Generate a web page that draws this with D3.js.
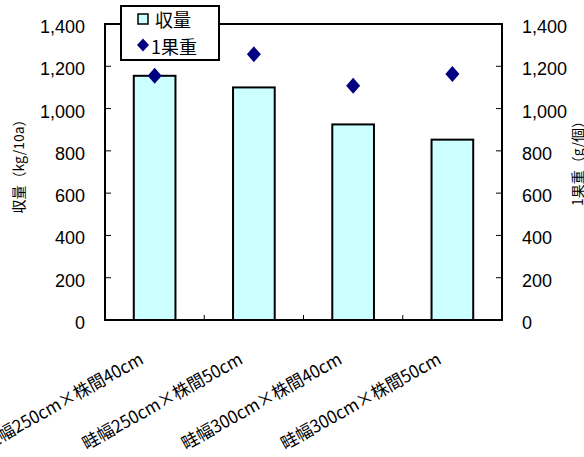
<!DOCTYPE html>
<html>
<head>
<meta charset="utf-8">
<script src="https://cdn.jsdelivr.net/npm/d3@7"></script>
<style>
  body { margin: 0; background: #fff; }
  svg { display: block; }
</style>
</head>
<body>
<svg id="chart" width="584" height="457"></svg>
<script>
const categories = ["畦幅250cm×株間40cm", "畦幅250cm×株間50cm", "畦幅300cm×株間40cm", "畦幅300cm×株間50cm"];
const yieldValues = [1155, 1100, 925, 853];
const fruitWeight = [1155, 1257, 1108, 1164];
const leftTicks = [0, 200, 400, 600, 800, 1000, 1200, 1400];
const rightTicks = [0, 200, 400, 600, 800, 1000, 1200, 1400];
const leftTitle = "収量（kg/10a）";
const rightTitle = "1果重（g/個）";
const legendLabels = ["収量", "1果重"];

const NUM_FONT = "'Liberation Sans', Arial, Helvetica, sans-serif";
const JP_FONT = "'Noto Sans CJK JP', 'Noto Sans CJK SC', sans-serif";

const svg = d3.select("#chart");
const L = 105, R = 502, T = 24, B = 320;

const x = d3.scaleBand().domain(categories).range([L, R]).padding(0);
const yL = d3.scaleLinear().domain([0, 1400]).range([B, T]);
const yR = d3.scaleLinear().domain([0, 1400]).range([B, T]);
const fmt = d3.format(",");

// plot frame
svg.append("rect").attr("x", L).attr("y", T).attr("width", R - L).attr("height", B - T)
  .attr("fill", "none").attr("stroke", "#000").attr("stroke-width", 2);

// left ticks (inward)
svg.append("g").selectAll("line").data(leftTicks).join("line")
  .attr("x1", L).attr("x2", L + 6).attr("y1", d => yL(d)).attr("y2", d => yL(d))
  .attr("stroke", "#000").attr("stroke-width", 1);
svg.append("g").selectAll("text").data(leftTicks).join("text")
  .attr("font-family", NUM_FONT).attr("font-size", 18)
  .attr("x", 85).attr("y", d => yL(d) + 9)
  .attr("text-anchor", "end").text(d => fmt(d));

// right ticks (inward)
svg.append("g").selectAll("line").data(rightTicks).join("line")
  .attr("x1", R - 6).attr("x2", R).attr("y1", d => yR(d)).attr("y2", d => yR(d))
  .attr("stroke", "#000").attr("stroke-width", 1);
svg.append("g").selectAll("text").data(rightTicks).join("text")
  .attr("font-family", NUM_FONT).attr("font-size", 18)
  .attr("x", 522).attr("y", d => yR(d) + 9)
  .attr("text-anchor", "start").text(d => fmt(d));

// category tick marks
const bounds = categories.slice(1).map(c => x(c));
svg.append("g").selectAll("line").data(bounds).join("line")
  .attr("x1", d => d).attr("x2", d => d).attr("y1", B).attr("y2", B - 5)
  .attr("stroke", "#000").attr("stroke-width", 1);

// bars
const bw = x.bandwidth() * 0.42;
svg.append("g").selectAll("rect").data(categories).join("rect")
  .attr("x", d => x(d) + x.bandwidth() / 2 - bw / 2)
  .attr("y", (d, i) => yL(yieldValues[i]))
  .attr("width", bw)
  .attr("height", (d, i) => yL(0) - yL(yieldValues[i]))
  .attr("fill", "#CCFFFF").attr("stroke", "#000").attr("stroke-width", 2);

// redraw baseline on top
svg.append("line").attr("x1", L).attr("x2", R).attr("y1", B).attr("y2", B)
  .attr("stroke", "#000").attr("stroke-width", 2);

// diamonds
const diamond = (cx, cy, w, h) => `M${cx},${cy - h}L${cx + w},${cy}L${cx},${cy + h}L${cx - w},${cy}Z`;
svg.append("g").selectAll("path").data(categories).join("path")
  .attr("d", (d, i) => diamond(x(d) + x.bandwidth() / 2, yR(fruitWeight[i]), 7, 8))
  .attr("fill", "#000080");

// x labels
svg.append("g").selectAll("text").data(categories).join("text")
  .attr("font-family", JP_FONT)
  .attr("font-size", 17.5)
  .attr("text-anchor", "end")
  .attr("textLength", 180).attr("lengthAdjust", "spacingAndGlyphs")
  .attr("transform", d => `translate(${x(d) + x.bandwidth() / 2 - 10},${B + 43}) rotate(-29)`)
  .text(d => d);

// axis titles
svg.append("text").attr("font-family", JP_FONT).attr("font-size", 14)
  .attr("text-anchor", "middle")
  .attr("transform", `translate(24,163) rotate(-90)`)
  .text(leftTitle);
svg.append("text").attr("font-family", JP_FONT).attr("font-size", 14)
  .attr("text-anchor", "middle")
  .attr("transform", `translate(583,160) rotate(-90)`)
  .text(rightTitle);

// legend
const lg = svg.append("g");
lg.append("rect").attr("x", 121).attr("y", 6).attr("width", 98).attr("height", 54)
  .attr("fill", "#fff").attr("stroke", "#000").attr("stroke-width", 2);
lg.append("rect").attr("x", 138).attr("y", 14).attr("width", 10).attr("height", 10)
  .attr("fill", "#CCFFFF").attr("stroke", "#000").attr("stroke-width", 1.5);
lg.append("path").attr("d", diamond(143, 45, 6, 6.5)).attr("fill", "#000080");
lg.append("text").attr("font-family", JP_FONT).attr("font-size", 18).attr("x", 155).attr("y", 26.5).text(legendLabels[0]);
lg.append("text").attr("font-family", JP_FONT).attr("font-size", 18).attr("x", 151).attr("y", 53.5).text(legendLabels[1]);
</script>
</body>
</html>
